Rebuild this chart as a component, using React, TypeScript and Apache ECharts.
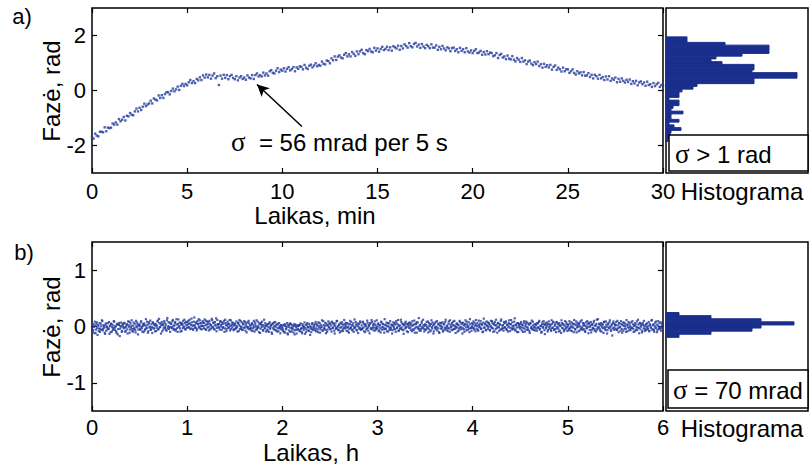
import React, { useEffect, useRef } from "react";
import * as echarts from "echarts";

// (a) phase, rad, one sample every 5 s over 30 min
const phaseA: number[] = [
  -1.69,-1.75,-1.57,-1.64,-1.67,-1.5,-1.5,-1.52,-1.34,-1.48,-1.35,-1.37,
  -1.35,-1.2,-1.24,-1.16,-1.24,-1.04,-1.12,-1.06,-0.96,-1.09,-0.92,-0.94,
  -0.82,-0.88,-0.9,-0.76,-0.66,-0.76,-0.63,-0.71,-0.59,-0.48,-0.57,-0.51,
  -0.47,-0.37,-0.47,-0.29,-0.33,-0.36,-0.18,-0.27,-0.17,-0.27,-0.13,-0.06,
  -0.06,-0.14,-0.02,0.07,-0.03,0.04,0.14,0.02,0.17,0.24,0.16,0.24,
  0.19,0.3,0.38,0.27,0.34,0.27,0.42,0.37,0.48,0.38,0.55,0.47,
  0.58,0.48,0.57,0.43,0.54,0.62,0.45,0.52,0.2,0.54,0.43,0.57,
  0.46,0.56,0.41,0.52,0.57,0.46,0.41,0.52,0.37,0.47,0.52,0.42,
  0.47,0.39,0.55,0.47,0.44,0.56,0.42,0.56,0.62,0.51,0.56,0.51,
  0.65,0.55,0.62,0.54,0.7,0.74,0.64,0.62,0.72,0.81,0.67,0.76,
  0.72,0.81,0.69,0.79,0.85,0.73,0.78,0.85,0.7,0.84,0.79,0.88,
  0.86,0.77,0.93,0.83,0.78,0.9,0.94,0.84,0.91,0.99,0.88,0.93,
  0.9,1.05,0.97,0.95,1.09,1.07,0.99,1.17,1.1,1.24,1.11,1.23,
  1.28,1.2,1.17,1.3,1.36,1.24,1.32,1.24,1.4,1.33,1.26,1.42,
  1.32,1.42,1.48,1.36,1.32,1.47,1.43,1.51,1.42,1.39,1.55,1.45,
  1.53,1.41,1.51,1.59,1.47,1.51,1.59,1.47,1.57,1.45,1.61,1.57,
  1.53,1.63,1.48,1.62,1.53,1.68,1.62,1.56,1.72,1.61,1.57,1.69,
  1.73,1.6,1.67,1.55,1.69,1.6,1.54,1.66,1.61,1.54,1.68,1.56,
  1.56,1.64,1.48,1.59,1.5,1.62,1.53,1.46,1.57,1.53,1.43,1.54,
  1.56,1.44,1.5,1.39,1.55,1.44,1.5,1.39,1.54,1.42,1.38,1.46,
  1.36,1.44,1.5,1.36,1.38,1.44,1.3,1.4,1.31,1.43,1.32,1.38,
  1.36,1.25,1.28,1.36,1.18,1.29,1.33,1.2,1.24,1.14,1.27,1.16,
  1.13,1.25,1.12,1.06,1.18,1.12,1.04,1.18,1.05,1.1,0.96,1.05,
  1.09,0.98,0.92,1.03,0.96,1.05,0.89,0.96,0.83,0.97,0.86,0.92,
  0.84,0.93,0.76,0.86,0.91,0.75,0.83,0.77,0.69,0.83,0.7,0.77,
  0.77,0.64,0.7,0.77,0.64,0.58,0.7,0.62,0.66,0.55,0.67,0.54,
  0.55,0.63,0.49,0.57,0.44,0.57,0.52,0.43,0.57,0.44,0.49,0.38,
  0.51,0.4,0.52,0.35,0.44,0.39,0.47,0.3,0.42,0.32,0.44,0.35,
  0.29,0.39,0.31,0.4,0.24,0.34,0.26,0.35,0.19,0.29,0.33,0.23,
  0.29,0.17,0.32,0.2,0.23,0.13,0.27,0.16,0.23,0.28,0.13,0.2,
  0.17,
];
const stepAMin = 5 / 60;

// (b) phase, mrad, samples on the 30 s marks over 6 h
const phaseBmrad: number[] = [
  -20,-85,40,-120,10,-55,75,-150,15,-35,-95,50,-60,95,-40,0,-110,30,-75,-5,
  60,-40,-130,5,45,-90,25,-25,85,-65,0,-115,50,-45,30,-170,5,70,-80,20,
  -30,65,-95,-5,40,-125,25,85,-55,-15,110,-80,15,-45,50,-105,5,70,-140,35,
  25,-60,95,-30,10,-100,55,-50,130,-20,30,-85,75,-5,-60,40,-115,65,-35,20,
  45,-80,15,105,-40,60,-10,-125,80,25,-55,95,-25,40,-75,150,5,-45,70,-15,
  55,-30,115,-60,20,80,-50,35,-95,125,5,-35,65,-80,40,100,-15,60,-55,25,
  80,-20,50,120,-45,30,75,-40,15,160,-25,60,-70,95,35,-5,110,-45,55,10,
  70,-30,125,20,-60,90,40,-10,100,-50,25,135,-15,60,-40,80,15,-85,115,35,
  45,-55,95,0,75,-25,55,-95,120,20,-40,85,-5,45,-70,110,25,-15,65,-50,
  35,-45,90,-15,60,-80,115,5,-35,70,-60,40,95,-20,20,-105,75,-10,55,-40,
  15,-70,60,-30,100,-90,35,0,-55,85,-20,45,-115,65,-10,25,-75,120,-35,20,
  5,-55,40,-95,75,-20,25,-130,55,-45,10,80,-70,35,-30,-85,60,-15,-50,20,
  -30,-80,30,-110,10,-50,60,-140,-10,25,-95,45,-35,-15,-105,40,-65,5,-125,20,
  -45,25,-85,55,-25,-120,10,-60,70,-30,-100,35,-10,-70,45,-150,-5,-45,60,-20,
  15,-65,80,-35,40,-100,5,60,-50,-15,110,-75,25,-30,65,-120,20,-55,90,-10,
  45,-40,-90,70,-15,35,-125,55,-30,95,5,-65,40,-20,-85,75,-50,20,115,-35,
  25,-75,60,-10,-110,45,-30,80,-55,15,-95,125,-20,35,-70,55,0,-40,90,-60,
  20,-35,70,-85,40,5,-55,105,-20,25,-120,60,-40,80,-15,45,-75,35,-30,110,
  -15,55,-70,25,-105,75,-10,40,-50,130,-35,20,-85,60,0,-55,95,-30,15,-65,
  75,-40,35,-95,55,-15,115,-70,20,-35,80,-55,40,-130,25,60,-20,-85,45,5,
  -25,70,-60,20,95,-50,35,-110,55,-10,75,-35,150,-75,15,-40,90,-20,25,-90,
  40,-55,80,-15,-105,60,25,-70,110,-35,20,-85,55,-10,-50,95,-30,35,-115,65,
  15,-40,75,-75,45,-20,120,-60,5,-30,90,-95,35,-15,60,-55,20,100,-40,-10,
  55,-90,25,-35,80,-15,45,-125,65,-50,20,110,-70,35,-10,75,-100,40,-20,60,
  -25,90,-55,15,115,-40,60,-75,25,-15,95,-35,45,-90,140,-20,55,-60,20,75,
  -5,40,-70,100,-25,60,-95,35,80,-45,20,-110,65,-15,45,-55,125,-35,25,-75,
  55,-20,90,-60,35,-5,110,-80,40,-25,75,-45,15,145,-55,25,-95,60,-15,45,
  -40,80,-70,20,-25,95,-90,45,-10,70,-55,35,-115,60,0,-35,85,-60,40,-20,
  25,-75,55,-15,100,-45,5,-95,75,-25,40,-135,60,-5,25,-60,90,-35,15,-80,
  45,-20,70,-55,35,-100,80,-5,-40,60,-75,20,110,-25,45,-85,15,-45,75,-15,
  35,-60,95,-25,5,-80,55,-20,115,-45,25,-105,65,-10,40,-70,90,-35,-15,60,
  -45,20,-95,75,-25,40,-120,55,-5,80,-60,25,-35,100,-75,15,45,-55,130,-20,
  40,-80,60,-15,25,-115,75,-40,90,-5,-65,35,-25,110,-55,15,-160,60,-20,45,
  -35,80,-60,20,-100,55,-15,95,-45,25,-75,70,5,-40,115,-85,35,-20,55,-65,
  75,-25,40,-95,15,60,-55,90,-20,35,-120,65,-5,45,-80,25,100,-40,20,-60,
  55,-35,80,-75,25,-15,115,-55,40,-95,70,-20,35,-60,95,-5,-45,75,-25,15,
  25,
];
// (b) phase, mrad, samples 15 s after each 30 s mark
const phaseBmradMid: number[] = [
  30,-65,-10,85,-115,45,-30,20,-80,60,-45,5,110,-70,25,-20,-130,55,-5,-50,
  -35,80,15,-100,50,-15,-60,95,-25,10,-85,40,-140,30,65,-40,0,-95,45,-10,
  55,-20,-75,30,-50,90,-5,-110,60,15,-40,-90,70,-25,-65,100,-15,35,-55,5,
  -40,70,-5,-90,45,25,-70,15,-35,85,-110,50,-20,105,-50,-10,75,-30,40,-85,
  20,-25,90,-55,135,-10,50,25,-85,40,-20,65,5,-60,110,-30,75,-5,-95,45,
  -15,95,10,-40,60,-75,130,-25,45,-5,70,-90,30,55,-30,5,120,-45,80,-20,
  35,100,-10,55,-35,140,15,-60,85,25,-15,75,-40,45,130,-20,60,5,-50,95,
  10,65,-45,105,35,-20,80,-70,50,15,-35,110,-5,70,-55,30,145,-25,40,-10,
  -20,85,30,-60,45,-10,100,-35,60,-80,25,50,-25,115,5,-45,70,35,-65,15,
  50,-25,10,-90,70,30,-45,95,-10,-60,40,-20,80,-75,55,-5,-35,100,-50,20,
  -30,45,-80,20,-10,70,-55,110,-25,5,-100,55,-40,30,85,-65,15,-20,60,-90,
  35,-75,-10,55,-40,15,-105,45,-20,70,-60,-5,30,-90,50,-30,10,-120,25,-15,
  -55,15,-95,40,-35,-5,-120,30,-70,55,-25,-85,20,-50,10,-140,35,-20,-60,5,
  10,-70,30,-45,-95,40,-25,-5,-130,25,-55,60,-15,-80,5,-35,-100,45,-60,15,
  -30,45,-85,15,-55,75,-20,-110,30,-5,-70,95,-40,10,-60,50,-95,25,-15,65,
  -50,20,85,-30,55,-75,10,-40,100,-20,-60,30,-105,65,-10,40,-80,-25,50,-5,
  65,-20,-85,35,-45,100,-15,25,-70,55,-30,-5,80,-60,15,-115,45,-25,70,-40,
  -45,85,-15,40,-100,20,-35,65,-75,10,50,-30,115,-55,25,-20,90,-65,5,-40,
  40,-85,15,-30,85,-55,45,-15,-110,30,-45,70,5,-90,55,-20,-60,35,-125,25,
  -10,60,-50,95,-25,35,-80,10,-40,120,-15,50,-65,20,-35,85,-5,40,-100,65,
  30,-20,55,-85,15,-60,105,-30,40,-110,70,-5,-45,25,-75,60,-15,120,-40,10,
  -60,25,-20,90,-45,5,-85,45,-10,70,-125,35,-30,80,-5,-70,50,-100,15,-35,
  60,-10,-90,35,-55,80,-25,15,-80,50,-35,110,-5,-65,25,85,-45,5,-115,40,
  -20,35,-70,100,-5,-50,65,-30,20,-95,45,-15,85,-60,10,-40,130,-25,-75,5,
  40,-30,65,-85,30,5,-60,105,-10,50,-45,25,-100,70,-20,35,-70,90,5,-40,
  60,-65,15,-10,95,-35,45,-85,20,120,-25,55,-5,-75,30,100,-50,15,-30,80,
  -10,70,-45,25,-90,60,-20,40,115,-55,10,-30,85,-70,35,-15,60,-100,25,-5,
  50,-15,30,-95,65,-40,10,85,-60,-20,40,-80,55,-30,105,-50,20,-10,-70,45,
  -35,60,-20,80,-55,15,-110,40,-5,95,-65,25,-30,70,-90,45,-10,35,-55,110,
  -25,85,-60,10,-45,70,-20,45,-90,25,5,-115,60,-35,30,-65,95,-15,40,-80,
  15,-35,50,-70,75,-10,35,-100,45,-55,90,-15,25,-85,60,5,-40,110,-60,20,
  55,-80,10,-35,95,-5,65,-60,20,-105,40,-25,70,-45,15,-90,120,-30,-5,50,
  -50,15,-90,45,-30,85,-10,-65,30,-125,55,-20,75,-5,-80,40,-35,90,-60,20,
  25,-55,100,-30,60,-5,-75,40,-110,70,15,-40,50,-95,25,-15,80,-65,10,-30,
  -20,95,-40,15,-85,35,-10,-65,120,-25,55,-50,20,-105,65,-35,5,-80,45,-10,
  -45,10,-85,40,-20,105,-50,25,-65,5,-30,90,-100,15,-40,60,-10,-75,50,-35,
];
const stepBHour = 0.5 / 60;

// histogram (a): bin centres (rad) and counts
const histACenters = [1.9,1.8,1.7,1.6,1.5,1.4,1.3,1.2,1.1,1.0,0.9,0.8,0.7,0.6,0.5,0.4,0.3,0.2,0.1,0.0,
  -0.1,-0.2,-0.3,-0.4,-0.5,-0.6,-0.7,-0.8,-0.9,-1.0,-1.1,-1.2,-1.3,-1.4,-1.5,-1.6,-1.7,-1.8];
const histACounts = [21,21,59,103,103,103,76,50,45,56,88,88,86,131,131,88,88,31,27,16,
  13,13,3,13,13,7,5,17,5,5,13,3,8,15,5,4,4,2];
const histABinWidth = 0.1;

// histogram (b): bin centres (rad) and counts
const histBCenters = [0.22,0.165,0.11,0.055,0,-0.055,-0.11,-0.165];
const histBCounts = [13,45,95,128,95,86,45,13];
const histBBinWidth = 0.055;

const xTicksA = [0,5,10,15,20,25,30];
const yTicksA = [-2,0,2];
const xTicksB = [0,1,2,3,4,5,6];
const yTicksB = [-1,0,1];

const DOT = "#22399b";
const BAR = "#1a2e8c";
const FONT = "Liberation Sans";

export default function App() {
  const ref = useRef<HTMLDivElement>(null);
  useEffect(() => {
    const chart = echarts.init(ref.current!, null, { renderer: "svg" });
    const ptsA = phaseA.map((v, i) => [i * stepAMin, v]);
    const ptsB = phaseBmrad.map((v, i) => [i * stepBHour, v / 1000])
      .concat(phaseBmradMid.map((v, i) => [(i + 0.5) * stepBHour, v / 1000]));
    const histA = histACenters.map((c, i) => [c, histACounts[i]]);
    const histB = histBCenters.map((c, i) => [c, histBCounts[i]]);

    const tickStyle = { show: true, inside: true, length: 5, lineStyle: { color: "#000", width: 1.2 } };
    const labelStyle = { color: "#000", fontSize: 22, fontFamily: FONT };

    const mkX = (grid: number, pos: "bottom" | "top", min: number, max: number, ticks: number[], labels: boolean, margin = 7) => ({
      type: "value", gridIndex: grid, position: pos, min, max, interval: ticks[1] - ticks[0],
      axisLine: { show: false, onZero: false }, splitLine: { show: false },
      axisTick: tickStyle,
      axisLabel: labels ? { ...labelStyle, margin } : { show: false },
    });
    const mkY = (grid: number, pos: "left" | "right", min: number, max: number, ticks: number[], labels: boolean) => ({
      type: "value", gridIndex: grid, position: pos, min, max,
      axisLine: { show: false, onZero: false }, splitLine: { show: false },
      axisTick: { ...tickStyle, customValues: ticks },
      axisLabel: labels ? { ...labelStyle, margin: 6, customValues: ticks } : { show: false, customValues: ticks },
    });
    const hidden = (grid: number, min: number, max: number) => ({
      type: "value", gridIndex: grid, min, max, show: false, axisLine: { onZero: false },
    });

    const histRender = (w: number) => (params: any, api: any) => {
      const c = api.value(0);
      const n = api.value(1);
      const p0 = api.coord([0, c + w / 2]);
      const p1 = api.coord([n, c - w / 2]);
      return {
        type: "rect",
        shape: { x: p0[0], y: p0[1], width: p1[0] - p0[0], height: p1[1] - p0[1] },
        style: { fill: BAR, stroke: BAR, lineWidth: 1 },
      };
    };

    const txt = (x: number, y: number, text: string, size: number, extra: any = {}) => ({
      type: "text", x, y, z: 100,
      style: { text, fill: "#000", font: `${size}px "${FONT}"`, align: "center", verticalAlign: "middle", ...extra },
    });
    const sigmaRich = {
      s: { fontFamily: "Liberation Serif", fontSize: 27, color: "#000" },
      t: { fontFamily: FONT, fontSize: 24, color: "#000" },
    };

    const option: any = {
      animation: false,
      backgroundColor: "#fff",
      grid: [
        { left: 92, top: 8, width: 571, height: 165, show: true, borderColor: "#000", borderWidth: 1.5, backgroundColor: "transparent" },
        { left: 666, top: 8, width: 142, height: 165, show: true, borderColor: "#000", borderWidth: 1.5, backgroundColor: "transparent" },
        { left: 92, top: 242, width: 571, height: 169, show: true, borderColor: "#000", borderWidth: 1.5, backgroundColor: "transparent" },
        { left: 666, top: 242, width: 142, height: 169, show: true, borderColor: "#000", borderWidth: 1.5, backgroundColor: "transparent" },
      ],
      xAxis: [
        mkX(0, "bottom", 0, 30, xTicksA, true, 7),
        mkX(0, "top", 0, 30, xTicksA, false),
        hidden(1, 0, 142),
        mkX(2, "bottom", 0, 6, xTicksB, true, 5),
        mkX(2, "top", 0, 6, xTicksB, false),
        hidden(3, 0, 142),
      ],
      yAxis: [
        mkY(0, "left", -3, 3, yTicksA, true),
        mkY(0, "right", -3, 3, yTicksA, false),
        hidden(1, -3, 3),
        mkY(2, "left", -1.5, 1.5, yTicksB, true),
        mkY(2, "right", -1.5, 1.5, yTicksB, false),
        hidden(3, -1.5, 1.5),
      ],
      series: [
        {
          type: "scatter", xAxisIndex: 0, yAxisIndex: 0, data: ptsA, symbol: "rect", symbolSize: 2.4,
          itemStyle: { color: DOT }, silent: true,
          markLine: {
            silent: true, symbol: ["none", "arrow"], symbolSize: [9, 12],
            lineStyle: { color: "#000", width: 1.5, type: "solid" },
            label: { show: false },
            data: [[{ coord: [11.03, -1.31] }, { coord: [8.67, 0.22] }]],
          },
        },
        {
          type: "custom", xAxisIndex: 2, yAxisIndex: 2, data: histA, encode: { x: 1, y: 0 },
          renderItem: histRender(histABinWidth), silent: true,
        },
        {
          type: "scatter", xAxisIndex: 3, yAxisIndex: 3, data: ptsB, symbol: "rect", symbolSize: 2.2,
          itemStyle: { color: DOT }, silent: true,
        },
        {
          type: "custom", xAxisIndex: 5, yAxisIndex: 5, data: histB, encode: { x: 1, y: 0 },
          renderItem: histRender(histBBinWidth), silent: true,
        },
      ],
      graphic: [
        txt(22, 16, "a)", 22),
        txt(24, 252, "b)", 22),
        { ...txt(51, 91, "Fazė, rad", 24), rotation: Math.PI / 2 },
        { ...txt(51, 327, "Fazė, rad", 24), rotation: Math.PI / 2 },
        txt(315, 215, "Laikas, min", 24),
        txt(311, 452, "Laikas, h", 24),
        txt(742, 191, "Histograma", 24),
        txt(742, 428, "Histograma", 24),
        {
          type: "text", x: 231, y: 142, z: 100,
          style: { text: "{s|σ}{t|  = 56 mrad per 5 s}", rich: sigmaRich, align: "left", verticalAlign: "middle" },
        },
        {
          type: "rect", z: 99, shape: { x: 669, y: 135, width: 139, height: 36 },
          style: { fill: "#fff", stroke: "#000", lineWidth: 1.5 },
        },
        {
          type: "text", x: 675, y: 154, z: 100,
          style: { text: "{s|σ}{t| > 1 rad}", rich: sigmaRich, align: "left", verticalAlign: "middle" },
        },
        {
          type: "rect", z: 99, shape: { x: 668, y: 370, width: 140, height: 38 },
          style: { fill: "#fff", stroke: "#000", lineWidth: 1.5 },
        },
        {
          type: "text", x: 673, y: 390, z: 100,
          style: { text: "{s|σ}{t| = 70 mrad}", rich: sigmaRich, align: "left", verticalAlign: "middle" },
        },
      ],
    };
    chart.setOption(option);
    return () => chart.dispose();
  }, []);
  return (
    <div
      ref={ref}
      style={{ position: "fixed", left: 0, top: 0, width: 810, height: 464, background: "#fff" }}
    />
  );
}
